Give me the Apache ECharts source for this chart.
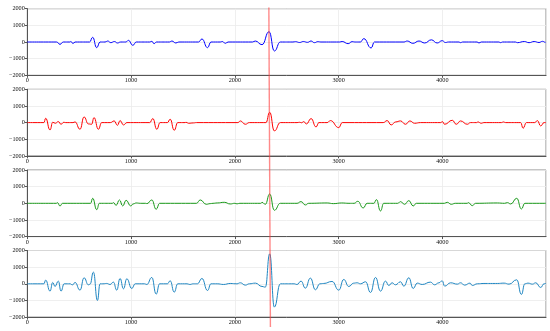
<!DOCTYPE html>
<html>
<head>
<meta charset="utf-8">
<script src="https://cdn.jsdelivr.net/npm/echarts@6/dist/echarts.min.js"></script>
<style>
html,body{margin:0;padding:0;background:#fff;}
#chart{width:550px;height:331px;}
</style>
</head>
<body>
<div id="chart"></div>
<script>
// X tick values and Y tick values
const xTicks = [0, 1000, 2000, 3000, 4000];
const yTicks = [-2000, -1000, 0, 1000, 2000];
const xRange = [0, 4999];

// Vertical marker (x at top, x at bottom)
const markerLine = [[2328, 1], [2343, 0]];

// Channel 1 (blue)
const ch1 = [[0,0],[283,0],[315,-140],[347,0],[410,0],[420,30],[440,-90],[460,0],[600,0],[630,280],[669,-340],[701,0],[750,0],[775,60],[805,-40],[840,30],[869,-60],[900,0],[950,0],[975,100],[1017,-200],[1050,0],[1180,0],[1200,40],[1222,-100],[1245,0],[1370,0],[1393,60],[1432,-60],[1460,0],[1650,0],[1683,180],[1737,-340],[1770,0],[1860,0],[1880,30],[1908,-80],[1935,0],[2170,0],[2197,60],[2262,-160],[2330,620],[2381,-540],[2439,0],[2560,0],[2585,20],[2625,-30],[2660,30],[2700,-20],[2735,60],[2767,-40],[2800,20],[2830,0],[3010,0],[3034,30],[3092,-100],[3130,20],[3160,0],[3210,0],[3243,200],[3314,-360],[3345,0],[3630,0],[3661,60],[3716,-80],[3775,60],[3830,-60],[3894,130],[3950,-60],[3999,80],[4030,-30],[4060,0],[4160,0],[4176,-40],[4195,0],[4335,0],[4353,-60],[4375,0],[4545,0],[4562,-40],[4580,0],[4705,0],[4723,-40],[4790,30],[4836,-40],[4885,30],[4932,-30],[4965,40],[4995,-20],[4999,0]];

// Channel 2 (red)
const ch2 = [[0,0],[160,0],[177,260],[219,-440],[245,20],[270,-40],[299,60],[325,-100],[352,20],[370,0],[440,0],[460,40],[508,-400],[547,340],[589,-80],[620,-100],[643,300],[685,-400],[717,0],[800,0],[837,100],[869,-160],[894,120],[927,-140],[960,0],[1180,0],[1210,240],[1248,-400],[1280,0],[1350,0],[1377,200],[1416,-460],[1450,0],[1520,0],[1530,20],[1554,-40],[1600,-20],[1630,0],[2030,0],[2053,100],[2101,-100],[2140,0],[2300,0],[2336,620],[2381,-500],[2439,0],[2600,0],[2625,20],[2645,-10],[2664,60],[2690,-80],[2735,240],[2783,-260],[2810,0],[2890,0],[2921,120],[3002,-300],[3035,0],[3430,0],[3468,120],[3507,-140],[3550,40],[3597,100],[3645,-100],[3687,100],[3732,-40],[3790,0],[3985,0],[4000,60],[4022,-100],[4096,140],[4134,-100],[4176,100],[4240,-100],[4272,0],[4330,0],[4343,40],[4375,-40],[4400,0],[4570,0],[4588,40],[4610,0],[4755,0],[4778,-340],[4810,0],[4890,0],[4916,120],[4948,-200],[4980,0],[4999,0]];

// Channel 3 (green)
const ch3 = [[0,0],[280,0],[290,40],[315,-160],[340,0],[610,0],[630,300],[669,-380],[695,0],[820,0],[830,40],[856,-120],[888,200],[920,-160],[952,180],[997,-160],[1020,-40],[1050,20],[1090,0],[1140,0],[1153,-20],[1200,200],[1242,-360],[1275,0],[1630,0],[1667,200],[1725,-60],[1763,-20],[1790,0],[1830,20],[1898,60],[1956,-40],[2000,0],[2020,-30],[2050,0],[2250,0],[2262,60],[2294,-60],[2336,560],[2381,-420],[2439,0],[2600,0],[2638,100],[2680,-100],[2712,0],[2890,20],[2950,-20],[3030,20],[3100,0],[3150,0],[3185,120],[3237,-280],[3275,0],[3340,0],[3365,220],[3404,-460],[3435,0],[3570,0],[3597,100],[3636,-60],[3677,160],[3719,-160],[3750,0],[4020,0],[4047,60],[4086,-60],[4125,0],[4240,0],[4250,40],[4289,-140],[4320,0],[4530,20],[4600,0],[4627,40],[4659,-40],[4717,300],[4762,-340],[4795,0],[4999,0]];

// Channel 4 (steel blue)
const ch4 = [[0,0],[160,0],[177,220],[219,-440],[245,80],[267,-160],[299,160],[325,-440],[355,0],[415,0],[418,20],[437,-60],[460,80],[508,-380],[547,360],[589,-60],[605,-20],[637,700],[676,-1000],[701,0],[730,0],[765,20],[798,-40],[830,100],[862,-380],[894,320],[927,-300],[959,300],[1007,-280],[1040,0],[1130,0],[1152,-40],[1200,380],[1242,-620],[1275,0],[1350,0],[1377,180],[1416,-500],[1450,0],[1540,0],[1566,-40],[1600,0],[1640,0],[1683,320],[1737,-400],[1770,0],[1830,0],[1892,-40],[1956,20],[2020,0],[2053,60],[2101,-80],[2140,0],[2198,40],[2262,-160],[2294,-200],[2336,1800],[2381,-1400],[2439,0],[2570,0],[2600,-40],[2638,160],[2680,-260],[2728,340],[2777,-360],[2819,0],[2857,20],[2937,140],[3002,-380],[3050,260],[3098,-160],[3146,40],[3179,60],[3211,0],[3260,120],[3308,-520],[3356,380],[3404,-440],[3452,160],[3484,-100],[3516,60],[3548,-60],[3597,120],[3629,-140],[3677,360],[3719,-280],[3758,40],[3806,-40],[3886,100],[3925,-60],[3967,60],[3999,180],[4022,-140],[4080,60],[4144,-20],[4176,60],[4215,-80],[4266,40],[4289,-100],[4337,0],[4401,20],[4466,20],[4530,20],[4595,40],[4643,-20],[4717,240],[4762,-640],[4795,0],[4826,40],[4868,-20],[4900,60],[4948,-220],[4980,0],[4999,20]];

const channels = [ch1, ch2, ch3, ch4];
const colors = ['#0000ff', '#ff0000', '#1a9a1a', '#1f86c2'];
const tops = [8.7, 89.3, 170, 250.5];
const panelH = 66.6;

const font = 'Liberation Serif, Times New Roman, serif';
const fmt = v => String(v).replace('-', '\u2212');

const grids = [], xAxes = [], yAxes = [], series = [];
channels.forEach((d, i) => {
  grids.push({left: 27.3, right: 4, top: tops[i], height: panelH, show: true,
    borderColor: '#8a8a8a', borderWidth: 1, backgroundColor: 'transparent'});
  xAxes.push({type: 'value', gridIndex: i, min: xRange[0], max: xRange[1], interval: 1000,
    axisLine: {show: true, onZero: false, lineStyle: {color: '#555', width: 1}},
    axisTick: {show: true, length: 2.5, lineStyle: {color: '#555'}},
    axisLabel: {show: true, showMaxLabel: false, fontFamily: font, fontSize: 6.2, color: '#111', margin: 2.5,
      formatter: v => xTicks.includes(v) ? fmt(v) : ''},
    splitLine: {show: true, lineStyle: {color: '#ebebeb', width: 0.8}}});
  yAxes.push({type: 'value', gridIndex: i, min: yTicks[0], max: yTicks[yTicks.length-1], interval: 1000,
    axisLine: {show: true, lineStyle: {color: '#555', width: 1}},
    axisTick: {show: true, length: 2.5, lineStyle: {color: '#555'}},
    axisLabel: {show: true, fontFamily: font, fontSize: 6.2, color: '#111', margin: 2.5, formatter: fmt},
    splitLine: {show: true, lineStyle: {color: '#ebebeb', width: 0.8}}});
  series.push({type: 'line', xAxisIndex: i, yAxisIndex: i, data: d, showSymbol: false,
    smooth: 0.5, smoothMonotone: 'x', lineStyle: {color: colors[i], width: 1}, z: 3, silent: true});
});

// overlay grid for the vertical marker spanning all panels
grids.push({left: 27.3, right: 4, top: 7.5, bottom: 4, show: false});
xAxes.push({type: 'value', gridIndex: 4, min: xRange[0], max: xRange[1], show: false});
yAxes.push({type: 'value', gridIndex: 4, min: 0, max: 1, show: false});
series.push({type: 'line', xAxisIndex: 4, yAxisIndex: 4, data: markerLine, showSymbol: false,
  lineStyle: {color: 'rgba(255,60,60,0.6)', width: 1.4}, z: 10, silent: true});

const chart = echarts.init(document.getElementById('chart'), null, {renderer: 'canvas'});
chart.setOption({animation: false, backgroundColor: '#fff', grid: grids, xAxis: xAxes, yAxis: yAxes, series: series});
</script>
</body>
</html>
